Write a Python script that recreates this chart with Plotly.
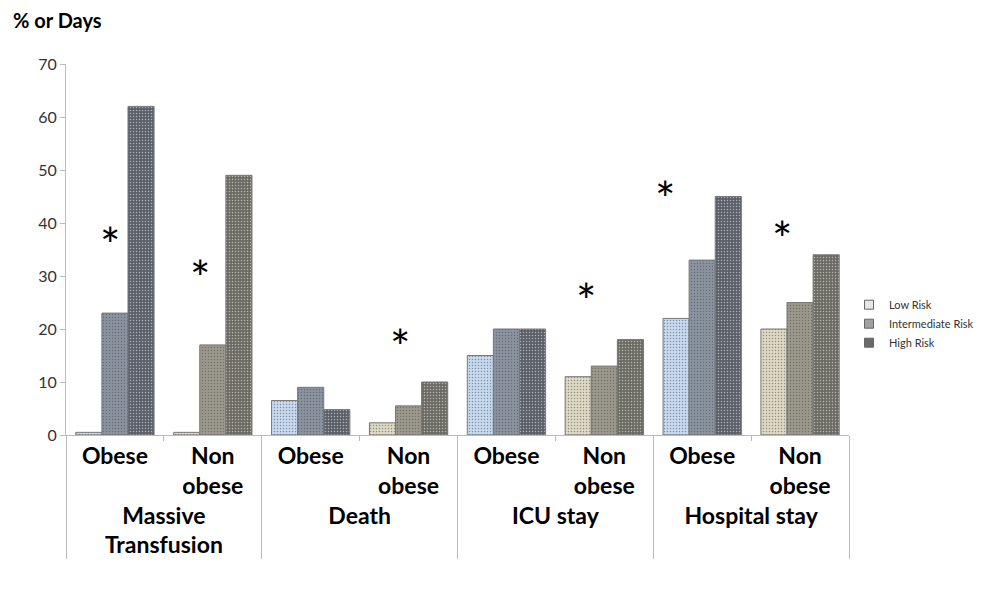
import plotly.graph_objects as go

groups = ["<b>Massive</b><br><b>Transfusion</b>"]*2 + ["<b>Death</b>"]*2 + ["<b>ICU stay</b>"]*2 + ["<b>Hospital stay</b>"]*2
subs = ["<b>Obese</b>", "<b>Non</b><br><b>obese</b>"]*4
low = [0.5, 0.5, 6.5, 2.3, 15, 11, 22, 20]
inter = [23, 17, 9, 5.5, 20, 13, 33, 25]
high = [62, 49, 4.8, 10, 20, 18, 45, 34]
series = ["Low Risk", "Intermediate Risk", "High Risk"]
colors = {
    "Low Risk": ["#c6d9f1", "#ddd9c3"],
    "Intermediate Risk": ["#8a94a0", "#9c998c"],
    "High Risk": ["#5b6068", "#6c6b63"],
}
legend_colors = ["#e6e6e6", "#a0a0a0", "#6a6a6a"]
star_px = [(97, 38.3), (187, 32), (399, 18.9), (597, 27.7), (676, 46.9), (793, 39.4)]

fig = go.Figure()
for name, vals, lc in zip(series, [low, inter, high], legend_colors):
    cols = [colors[name][i % 2] for i in range(8)]
    fig.add_trace(go.Bar(x=[groups, subs], y=vals, name=name, showlegend=False,
                         marker=dict(color=cols, line=dict(color="#777", width=1),
                                     pattern=dict(shape=".", size=3, solidity=0.2, fgcolor="#555"))))
for name, lc in zip(series, legend_colors):
    fig.add_trace(go.Scatter(x=[None], y=[None], mode="markers", name=name,
                             marker=dict(symbol="square", size=9, color=lc, line=dict(color="#666", width=1))))

for px, yv in star_px:
    fig.add_annotation(x=(px-65)/783, xref="paper", y=yv, yref="y", text="*", showarrow=False,
                       font=dict(size=48, color="black"), yshift=-12)
fig.add_annotation(x=-0.07, xref="paper", y=1.08, yref="paper", yanchor="bottom", xanchor="left",
                   text="<b>% or Days</b>", showarrow=False, font=dict(size=20, color="black"))

fig.update_layout(
    width=988, height=605, barmode="group", bargap=0.2, bargroupgap=0,
    plot_bgcolor="white", paper_bgcolor="white",
    margin=dict(l=58, r=147, t=56, b=178, autoexpand=False),
    font=dict(family="Lato, Open Sans, sans-serif", color="black"),
    legend=dict(x=1.0, y=0.3, xanchor="left", yanchor="middle", font=dict(size=11, color="#333"),
                tracegroupgap=4),
    xaxis=dict(type="multicategory", showline=True, linecolor="#bbb", ticks="outside",
               tickcolor="#bbb", showdividers=True, dividercolor="#bbb", dividerwidth=1,
               tickfont=dict(size=23, color="black")),
    yaxis=dict(range=[0, 70], dtick=10, showgrid=False, showline=True, linecolor="#bbb",
               ticks="outside", tickcolor="#bbb", tickfont=dict(size=16, color="#333"), zeroline=False),
)
fig.write_html("out.html")
